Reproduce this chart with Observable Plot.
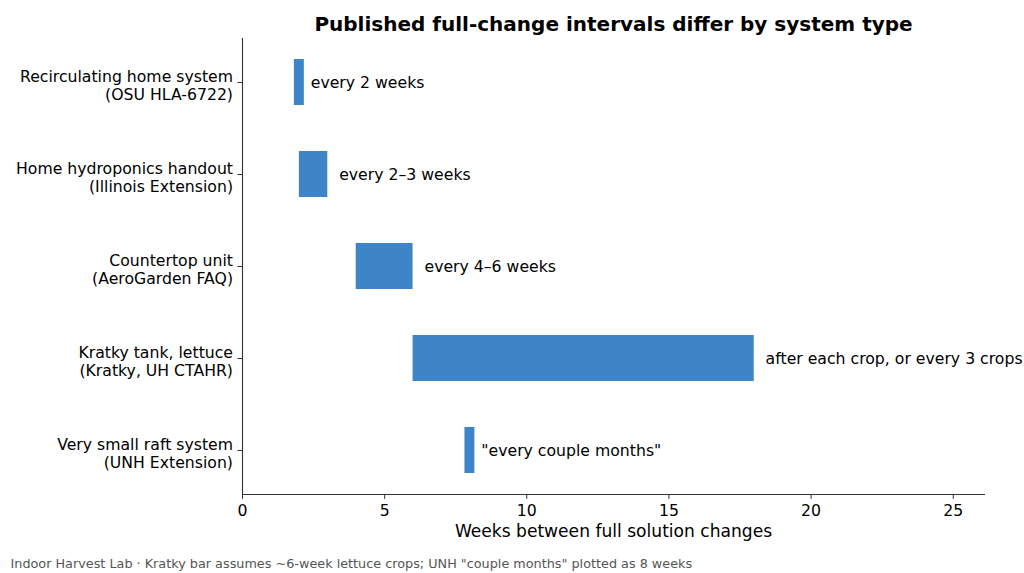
<!DOCTYPE html>
<html>
<head>
<meta charset="utf-8">
<script src="https://cdn.jsdelivr.net/npm/d3@7"></script>
<script src="https://cdn.jsdelivr.net/npm/@observablehq/plot@0.6"></script>
<style>
  html, body { margin: 0; padding: 0; background: #fff; }
  svg { display: block; }
</style>
</head>
<body>
<div id="chart"></div>
<script>
const systems = ["Recirculating home system", "Home hydroponics handout", "Countertop unit", "Kratky tank, lettuce", "Very small raft system"];
const sources = ["OSU HLA-6722", "Illinois Extension", "AeroGarden FAQ", "Kratky, UH CTAHR", "UNH Extension"];
const lowWeeks = [2, 2, 4, 6, 8];
const highWeeks = [2, 3, 6, 18, 8];
const notes = ["every 2 weeks", "every 2\u20133 weeks", "every 4\u20136 weeks", "after each crop, or every 3 crops", "\"every couple months\""];
const xTicks = [0, 5, 10, 15, 20, 25];

const title = "Published full-change intervals differ by system type";
const xLabel = "Weeks between full solution changes";
const caption = "Indoor Harvest Lab \u00b7 Kratky bar assumes ~6-week lettuce crops; UNH \"couple months\" plotted as 8 weeks";

const minHalf = 0.175;
const rows = systems.map((s, i) => ({
  system: s,
  label: s + "\n(" + sources[i] + ")",
  x1: lowWeeks[i] === highWeeks[i] ? lowWeeks[i] - minHalf : lowWeeks[i],
  x2: lowWeeks[i] === highWeeks[i] ? highWeeks[i] + minHalf : highWeeks[i],
  high: highWeeks[i],
  note: notes[i]
}));
const labelOf = new Map(rows.map(d => [d.system, d.label]));
const font = "DejaVu Sans, sans-serif";
const fs = 15.7;

const chart = Plot.plot({
  width: 1024,
  height: 573,
  marginLeft: 242,
  marginRight: 40,
  marginTop: 38,
  marginBottom: 79,
  style: { fontFamily: font, background: "#fff", color: "#000" },
  x: { domain: [0, d3.max(highWeeks) * 1.45] },
  y: { domain: systems, paddingInner: 0.5, paddingOuter: 0.2283, round: false },
  marks: [
    Plot.barX(rows, { y: "system", x1: "x1", x2: "x2", fill: "#3d85c6" }),
    Plot.text(rows, { y: "system", x: "high", text: "note", dx: 11.4, textAnchor: "start", fontSize: fs, fill: "#000" }),
    Plot.frame({ anchor: "left", stroke: "#333", strokeWidth: 1.1 }),
    Plot.frame({ anchor: "bottom", stroke: "#333", strokeWidth: 1.1 }),
    Plot.axisX({ ticks: xTicks, tickSize: 4.9, tickPadding: 5.5, fontSize: fs, label: null, stroke: "#333", fill: "#000" }),
    Plot.axisY({ tickSize: 4.5, tickFormat: () => "", label: null, stroke: "#333" }),
    Plot.axisY({ tickSize: 0, tickPadding: 9.5, dy: 3, fontSize: fs, label: null, tickFormat: d => labelOf.get(d), fill: "#000", lineHeight: 1.09 }),
    Plot.text([title], { frameAnchor: "top", dy: -14, lineAnchor: "middle", fontSize: 20, fontWeight: "bold", fill: "#000" }),
    Plot.text([xLabel], { frameAnchor: "bottom", dy: 37, lineAnchor: "middle", fontSize: 17.1, fill: "#000" }),
    Plot.text([caption], { frameAnchor: "bottom-left", dx: -232, dy: 69, lineAnchor: "middle", textAnchor: "start", fontSize: 12.8, fill: "#555" })
  ]
});
document.getElementById("chart").appendChild(chart);
</script>
</body>
</html>
